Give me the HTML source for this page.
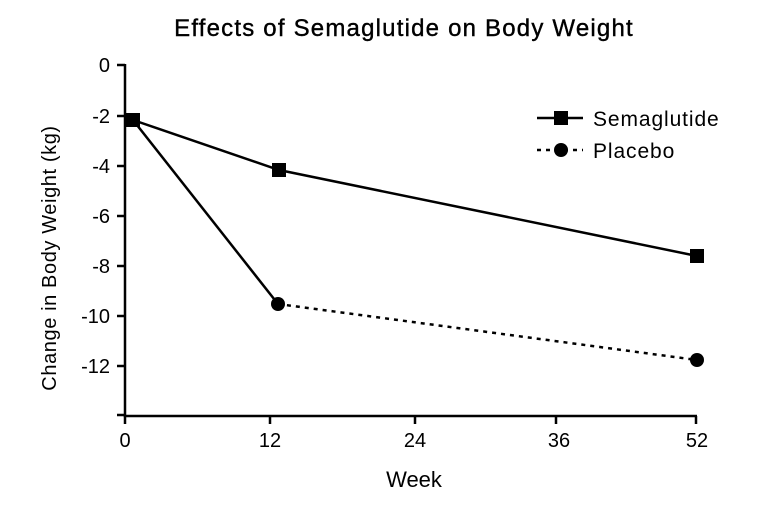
<!DOCTYPE html>
<html><head><style>body{margin:0;background:#fff}</style></head><body>
<svg width="769" height="501" xmlns="http://www.w3.org/2000/svg" font-family="Liberation Sans, sans-serif" fill="#000">
<text x="404" y="36" font-size="24" letter-spacing="1.2" text-anchor="middle" stroke="#000" stroke-width="0.4">Effects of Semaglutide on Body Weight</text>
<g stroke="#000" stroke-width="2.5" fill="none">
<path d="M125 64V416H697"/>
<path d="M117 65H125M117 116H125M117 166H125M117 216H125M117 266H125M117 316H125M117 366H125M117 415H125"/>
<path d="M125 416V424M270 416V424M415 416V424M556 416V424M696 416V424"/>
<polyline points="133,120 279,170 697,256"/>
<polyline points="133,120 278,304"/>
<polyline points="278,304 697,360" stroke-dasharray="4,5"/>
<path d="M537 118H583"/>
<path d="M537 150H583" stroke-dasharray="4,5"/>
</g>
<rect x="126" y="113" width="14" height="14"/>
<rect x="272" y="163" width="14" height="14"/>
<rect x="690" y="249" width="14" height="14"/>
<circle cx="278" cy="304" r="7"/>
<circle cx="697" cy="360" r="7"/>
<rect x="554" y="111" width="14" height="14"/>
<circle cx="561" cy="150" r="7"/>
<g font-size="21" letter-spacing="0.9">
<text x="593" y="126">Semaglutide</text>
<text x="593" y="158">Placebo</text>
</g>
<g font-size="20" text-anchor="end">
<text x="110" y="72">0</text><text x="110" y="123">-2</text><text x="110" y="173">-4</text>
<text x="110" y="223">-6</text><text x="110" y="273">-8</text><text x="110" y="323">-10</text><text x="110" y="373">-12</text>
</g>
<g font-size="20" text-anchor="middle">
<text x="125" y="447">0</text><text x="270" y="447">12</text><text x="415" y="447">24</text><text x="559" y="447">36</text><text x="697" y="447">52</text>
<text x="414" y="487" font-size="22">Week</text>
<text transform="translate(56,258) rotate(-90)" font-size="20" letter-spacing="0.6">Change in Body Weight (kg)</text>
</g>
</svg>
</body></html>
